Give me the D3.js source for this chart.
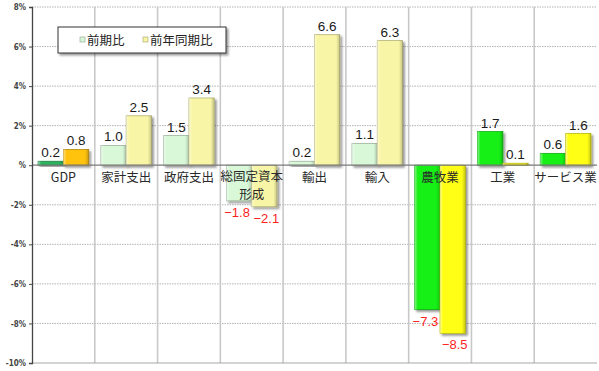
<!DOCTYPE html>
<html>
<head>
<meta charset="utf-8">
<script src="https://cdn.jsdelivr.net/npm/d3@7"></script>
<style>
  body { margin: 0; background: #fff; }
  svg { display: block; }
</style>
</head>
<body>
<svg id="chart"></svg>
<script>
// values
let categories = ["GDP", "家計支出", "政府支出", "総固定資本形成", "輸出", "輸入", "農牧業", "工業", "サービス業"];
let qoq = [0.2, 1.0, 1.5, -1.8, 0.2, 1.1, -7.3, 1.7, 0.6];
let yoy = [0.8, 2.5, 3.4, -2.1, 6.6, 6.3, -8.5, 0.1, 1.6];
let seriesNames = ["前期比", "前年同期比"];
let yTicks = [8, 6, 4, 2, 0, -2, -4, -6, -8, -10];

function getConfig(){
    let width = 599;
    let height = 371;
    let margin = { top: 7, bottom: 8, left: 32, right: 2 };
    let bodyWidth = width - margin.left - margin.right;
    let bodyHeight = height - margin.top - margin.bottom;
    let container = d3.select("#chart")
        .attr("width", width)
        .attr("height", height);
    return { width, height, margin, bodyWidth, bodyHeight, container };
}

function getScales(config){
    let { bodyWidth, bodyHeight } = config;
    let xScale = d3.scaleBand()
        .domain(categories)
        .range([0, bodyWidth])
        .padding(0);
    let sScale = d3.scaleBand()
        .domain(["qoq", "yoy"])
        .range([0, xScale.bandwidth()])
        .paddingInner(0)
        .paddingOuter(0.24);
    let yScale = d3.scaleLinear()
        .domain([-10, 8])
        .range([bodyHeight, 0]);
    return { xScale, sScale, yScale };
}

// colour scheme per category group: [qoq, yoy]
function barColor(i, s){
    let c = categories[i];
    if (c == "GDP") return s == "qoq" ? "#2ab45c" : "#ffc20e";
    if (c == "農牧業" || c == "工業" || c == "サービス業") return s == "qoq" ? "#14f014" : "#ffff14";
    return s == "qoq" ? "#d8f8d8" : "#f8f6a6";
}

function makeDefs(config){
    let defs = config.container.append("defs");
    let f = defs.append("filter").attr("id", "shadow")
        .attr("x", "-20%").attr("y", "-20%").attr("width", "150%").attr("height", "150%");
    f.append("feDropShadow").attr("dx", 2).attr("dy", 2)
        .attr("stdDeviation", 1).attr("flood-color", "#000").attr("flood-opacity", 0.4);
    let g = defs.append("linearGradient").attr("id", "bevel")
        .attr("x1", 0).attr("x2", 1).attr("y1", 0).attr("y2", 0);
    g.append("stop").attr("offset", "0").attr("stop-color", "#fff").attr("stop-opacity", 0.5);
    g.append("stop").attr("offset", "0.12").attr("stop-color", "#fff").attr("stop-opacity", 0);
    g.append("stop").attr("offset", "0.85").attr("stop-color", "#000").attr("stop-opacity", 0);
    g.append("stop").attr("offset", "1").attr("stop-color", "#000").attr("stop-opacity", 0.2);
}

function drawGrid(scales, config){
    let { xScale, yScale } = scales;
    let { container, margin, bodyWidth, bodyHeight } = config;
    let g = container.append("g").attr("transform", `translate(${margin.left},${margin.top})`);

    g.selectAll(".hgrid")
        .data(yTicks.filter(d => d != 0 && d != -10))
        .enter().append("line")
        .attr("x1", 0).attr("x2", bodyWidth)
        .attr("y1", d => yScale(d)).attr("y2", d => yScale(d))
        .style("stroke", "#b4b4b4")
        .style("stroke-width", 1)
        .style("stroke-dasharray", "1.5,1");

    g.selectAll(".vgrid")
        .data(categories.slice(1))
        .enter().append("line")
        .attr("x1", d => xScale(d)).attr("x2", d => xScale(d))
        .attr("y1", 0).attr("y2", bodyHeight)
        .style("stroke", "#c8c8c8")
        .style("stroke-width", 1.6);

    g.append("line")
        .attr("x1", 0).attr("x2", bodyWidth)
        .attr("y1", yScale(-10)).attr("y2", yScale(-10))
        .style("stroke", "#a8a8a8").style("stroke-width", 1.2);
}

function drawBars(scales, config){
    let { xScale, sScale, yScale } = scales;
    let { container, margin } = config;
    let g = container.append("g").attr("transform", `translate(${margin.left},${margin.top})`);
    let rows = [];
    categories.forEach((c, i) => {
        rows.push({ i, c, s: "qoq", v: qoq[i] });
        rows.push({ i, c, s: "yoy", v: yoy[i] });
    });
    let bars = g.selectAll(".bar").data(rows).enter().append("g")
        .attr("filter", "url(#shadow)");
    let rx = d => xScale(d.c) + sScale(d.s);
    let ry = d => Math.min(yScale(d.v), yScale(0));
    let rh = d => Math.max(1.5, Math.abs(yScale(d.v) - yScale(0)));
    bars.append("rect")
        .attr("x", rx).attr("y", ry)
        .attr("width", sScale.bandwidth()).attr("height", rh)
        .attr("fill", d => barColor(d.i, d.s))
        .attr("stroke", d => d3.color(barColor(d.i, d.s)).darker(0.9))
        .attr("stroke-width", 0.8);
    bars.append("rect")
        .attr("x", rx).attr("y", ry)
        .attr("width", sScale.bandwidth()).attr("height", rh)
        .attr("fill", "url(#bevel)");

    // negative labels pushed slightly apart so the pair doesn't touch
    let nudge = d => d.v >= 0 ? 0 : (d.s == "qoq" ? -2 : 2);
    g.selectAll(".val").data(rows).enter().append("text")
        .attr("x", d => xScale(d.c) + sScale(d.s) + sScale.bandwidth() / 2 + nudge(d))
        .attr("y", d => d.v >= 0 ? yScale(d.v) - 4 : yScale(d.v) + 16)
        .attr("text-anchor", "middle")
        .style("font-family", "'Liberation Sans', Arial, sans-serif")
        .style("font-size", d => d.v >= 0 ? "13.5px" : "13px")
        .style("fill", d => d.v >= 0 ? "#1a1a1a" : "#ff1e1e")
        .text(d => d.v >= 0 ? d3.format(".1f")(d.v) : "\u2212" + d3.format(".1f")(-d.v));
}

function drawAxes(scales, config){
    let { xScale, yScale } = scales;
    let { container, margin, bodyWidth } = config;
    let g = container.append("g").attr("transform", `translate(${margin.left},${margin.top})`);

    g.append("line")
        .attr("x1", 0).attr("x2", bodyWidth)
        .attr("y1", yScale(0)).attr("y2", yScale(0))
        .style("stroke", "#7a7a7a").style("stroke-width", 1.2);

    let axisY = d3.axisLeft(yScale)
        .tickValues(yTicks)
        .tickSize(3)
        .tickFormat(d => d == 0 ? "%" : d + "%");
    let ay = g.append("g").call(axisY);
    ay.select(".domain").style("stroke", "#444").style("stroke-width", 1.3);
    ay.selectAll(".tick line").style("stroke", "#444");
    ay.selectAll(".tick text")
        .attr("x", -6)
        .style("font-family", "'DejaVu Sans Condensed', 'Liberation Sans Narrow', sans-serif")
        .style("font-size", "8px")
        .style("font-weight", "bold")
        .style("fill", "#444");

    // long names wrap after 5 characters, like the original
    let labels = g.selectAll(".cat").data(categories).enter().append("text")
        .attr("x", d => xScale(d) + xScale.bandwidth() / 2)
        .attr("y", d => yScale(0) + (d.length > 5 ? 15.5 : 17))
        .attr("text-anchor", "middle")
        .style("font-family", "'Noto Sans CJK JP', sans-serif")
        .style("font-size", "12.5px")
        .style("fill", "#2a2a2a");
    labels.each(function(d){
        let lines = d.length > 5 ? [d.slice(0, 5), d.slice(5)] : [d];
        d3.select(this).selectAll("tspan").data(lines).enter().append("tspan")
            .attr("x", xScale(d) + xScale.bandwidth() / 2)
            .attr("dy", (l, k) => k == 0 ? 0 : 18)
            .text(l => l);
    });
}

function legend(config){
    let { container } = config;
    let g = container.append("g").attr("transform", "translate(58,27)");
    g.append("rect")
        .attr("width", 168).attr("height", 26)
        .attr("fill", "#fff")
        .attr("stroke", "#333").attr("stroke-width", 1)
        .attr("filter", "url(#shadow)");
    let xs = [22, 85];
    let cols = ["#d8f8d8", "#f8f6a6"];
    seriesNames.forEach((n, k) => {
        g.append("rect")
            .attr("x", xs[k]).attr("y", 10)
            .attr("width", 5).attr("height", 5)
            .attr("fill", cols[k])
            .attr("stroke", d3.color(cols[k]).darker(1.2)).attr("stroke-width", 0.6);
        g.append("text")
            .attr("x", xs[k] + 7).attr("y", 18)
            .style("font-family", "'Noto Sans CJK JP', sans-serif")
            .style("font-size", "12.5px")
            .style("fill", "#222")
            .text(n);
    });
}

let config = getConfig();
let scales = getScales(config);
makeDefs(config);
drawGrid(scales, config);
drawBars(scales, config);
drawAxes(scales, config);
legend(config);
</script>
</body>
</html>
